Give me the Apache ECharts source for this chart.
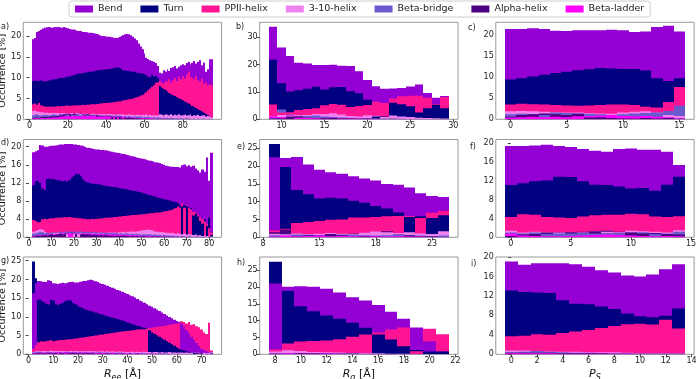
<!DOCTYPE html>
<html>
<head>
<meta charset="utf-8">
<script src="https://cdn.jsdelivr.net/npm/echarts@6/dist/echarts.min.js"></script>
<style>html,body{margin:0;padding:0;background:#fff}#chart{width:696px;height:379px}</style>
</head>
<body>
<div id="chart"></div>
<script>
// secondary structure classes and their colours
const cats = ['Bend', 'Turn', 'PPII-helix', '3-10-helix', 'Beta-bridge', 'Alpha-helix', 'Beta-ladder'];
const colors = ['#9400D3', '#000080', '#FF1493', '#EE82EE', '#6A5ACD', '#4B0082', '#FF00FF'];

// ---- a) R_ee, bins centred 2..95
const aStart = 2;
const aBend = [19.2,19.5,21.0,21.2,21.5,21.8,22.0,22.1,22.2,22.1, 22.0,22.1,22.2,22.2,22.1,22.0,22.2,22.0,21.9,21.7,
  21.6,21.6,21.5,21.3,21.2,21.2,21.0,21.0,20.9,20.8, 20.8,20.7,20.6,20.5,20.4,20.2,20.0,20.0,19.9,19.8,
  19.8,19.7,19.6,19.5,19.6,19.8,20.0,20.2,20.4,20.5, 20.4,20.2,19.8,19.4,19.0,18.2,17.5,16.8,15.8,14.8,
  14.5,14.2,14.0,13.8,13.5,12.8,11.2,11.0,11.8,11.5, 12.0,11.6,12.3,12.5,12.8,12.2,12.6,13.0,13.2,13.0,
  13.5,13.8,13.2,13.6,14.0,13.4,13.8,14.2,13.0,13.6, 11.4,12.0,14.4,14.4];
const aTurn = [9.2,9.3,9.2,9.2,9.3,9.2,9.1,9.2,9.3,9.3, 9.5,9.6,9.6,9.8,9.9,9.9,10.0,10.1,10.2,10.3,
  10.5,10.6,10.7,10.9,11.0,11.0,11.1,11.2,11.3,11.4, 11.4,11.5,11.6,11.7,11.8,11.8,11.9,11.9,12.0,12.1,
  12.1,12.2,12.3,12.4,12.5,12.3,12.0,11.8,11.7,11.6, 11.6,11.5,11.4,11.4,11.2,11.1,11.0,11.0,10.9,10.6,
  10.3,10.1,10.7,10.3,10.4,9.9,8.0,7.6,7.3,7.0, 6.6,6.3,6.0,5.8,5.6,5.3,5.0,4.8,4.6,4.3,
  4.0,3.8,3.5,3.2,3.0,2.7,2.4,2.2,1.9,1.6, 1.3,1.0,0.6,0.5];
const aPPII = [3.6,3.8,3.5,3.9,3.4,3.2,3.1,3.0,3.0,3.0, 3.1,3.0,3.1,3.2,3.1,3.2,3.2,3.3,3.3,3.2,
  3.3,3.3,3.4,3.3,3.4,3.4,3.5,3.4,3.5,3.5, 3.6,3.6,3.6,3.7,3.7,3.8,3.8,3.9,3.9,4.0,
  4.0,4.1,4.1,4.2,4.3,4.3,4.4,4.5,4.6,4.7, 4.8,4.9,5.0,5.2,5.3,5.5,5.7,5.9,6.2,6.5,
  7.0,7.4,7.8,8.2,8.8,8.9,9.2,8.8,8.6,9.2, 9.0,9.6,8.8,9.4,10.0,9.2,10.2,9.6,10.4,9.8,
  10.8,11.5,10.2,10.0,9.6,10.4,9.4,9.0,9.8,8.6, 8.8,8.2,8.4,8.2];
const a310 = [2.0,2.1,1.9,1.8,1.7,1.7,1.6,1.6,1.5,1.6, 1.5,1.6,1.5,1.5,1.4,1.5,1.5,1.4,1.5,1.4,
  1.5,1.4,1.4,1.5,1.4,1.3,1.4,1.3,1.4,1.3, 1.3,1.4,1.3,1.2,1.3,1.3,1.2,1.3,1.2,1.2,
  1.3,1.2,1.2,1.1,1.2,1.2,1.1,1.2,1.1,1.1, 1.2,1.1,1.1,1.0,1.1,1.1,1.0,1.1,1.0,1.2,
  1.0,1.1,0.9,1.0,0.9,1.0,1.2,1.1,1.0,1.2, 1.1,1.0,1.2,0.9,1.1,1.0,1.2,0.9,1.0,1.1,
  0.9,1.0,1.2,0.8,1.0,0.9,1.1,0.8,0.9,1.0, 0.7,0.8,0.6,0.5];
const aBB = [1.0,1.1,1.2,1.0,0.9,1.0,1.1,1.0,0.9,1.0, 1.1,1.2,1.1,1.0,1.2,1.3,1.2,1.1,1.2,1.3,
  1.2,1.1,1.3,1.2,1.1,1.0,1.1,1.2,1.1,1.0, 1.1,1.0,0.9,1.0,1.1,0.9,1.0,0.9,0.8,0.9,
  1.0,0.9,0.8,0.9,0.8,0.9,0.8,0.7,0.8,0.7, 0.8,0.7,0.6,0.7,0.6,0.7,0.6,0.5,0.6,0.5,
  0.6,0.5,0.4,0.5,0.4,0.5,0.4,0.3,0.4,0.3, 0.4,0.3,0.4,0.3,0.2,0.3,0.2,0.3,0.2,0.2,
  0.3,0.2,0.2,0.1,0.2,0.1,0.2,0.1,0.1,0.2, 0.1,0.1,0.1,0.1];
const aAH = [0.3,0.4,0.5,0.4,0.5,0.6,0.5,0.6,0.7,0.6, 0.7,0.8,0.7,0.8,0.9,1.0,1.2,1.3,1.4,1.2,
  1.3,1.4,1.2,1.3,1.5,1.4,1.2,1.1,1.3,1.2, 1.0,1.1,0.9,1.0,0.8,0.9,0.7,0.8,0.9,0.7,
  0.8,0.6,0.7,0.5,0.6,0.5,0.4,0.5,0.4,0.3, 0.4,0.3,0.3,0.2,0.3,0.2,0.2,0.3,0.2,0.2,
  0.2,0.1,0.2,0.1,0.1,0.2,0.1,0.1,0.1,0.1, 0.1,0.1,0.1,0.1,0.1,0.0,0.1,0.0,0.1,0.0,
  0.0,0.1,0.0,0.0,0.1,0.0,0.0,0.0,0.0,0.0, 0.0,0.0,0.0,0.0];
const aBL = [0.2,0.2,0.3,0.2,0.3,0.3,0.2,0.3,0.4,0.3, 0.4,0.5,0.4,0.5,0.6,0.7,0.8,0.7,0.9,0.8,
  0.7,0.8,0.9,0.7,0.8,0.6,0.8,0.9,0.7,0.8, 0.9,0.7,0.8,0.6,0.7,0.8,0.6,0.7,0.8,0.6,
  0.7,0.8,0.6,0.7,0.5,0.6,0.7,0.5,0.6,0.4, 0.5,0.4,0.5,0.3,0.4,0.3,0.4,0.3,0.2,0.3,
  0.2,0.3,0.2,0.2,0.1,0.2,0.1,0.1,0.2,0.1, 0.1,0.1,0.0,0.1,0.0,0.1,0.0,0.0,0.1,0.0,
  0.0,0.0,0.0,0.1,0.0,0.0,0.0,0.0,0.0,0.0, 0.0,0.0,0.0,0.0];

// ---- b) R_g, bins centred 9..29
const bStart = 9;
const bBend = [33.9,26.3,23.2,20.7,20.4,19.9,19.9,20.0,19.6,19.5,17.6,14.4,12.1,11.2,11.3,11.5,12.0,12.7,9.6,7.9,8.5];
const bTurn = [21.8,13.2,10.2,10.6,11.2,11.9,10.9,11.7,11.8,10.3,9.5,7.2,1.0,1.0,6.1,5.5,4.8,2.5,4.0,5.3,4.0];
const bPPII = [5.4,2.5,2.6,3.4,3.8,4.0,5.1,5.6,5.3,4.5,4.9,5.2,6.4,6.0,7.6,8.4,8.6,8.6,7.9,5.6,8.2];
const b310 = [1.0,1.6,1.3,1.5,1.6,1.9,1.9,2.2,1.8,1.2,1.0,1.5,1.3,0.8,1.4,1.0,0.8,0.6,0.5,0.4,0.3];
const bBB = [0.5,3.6,1.8,1.2,1.2,1.4,1.0,0.8,0.7,0.6,0.5,0.4,0.3,0.3,0.2,0.2,0.1,0.1,0.1,0.0,0.0];
const bAH = [0.3,0.4,1.0,1.0,0.6,0.5,0.4,0.5,0.3,0.4,0.2,0.3,0.1,0.1,0.2,0.1,0.0,0.0,0.0,0.0,0.0];
const bBL = [1.0,0.8,1.5,0.6,0.5,0.4,0.5,0.6,0.4,0.3,0.3,0.2,0.2,0.1,0.1,0.1,0.1,0.0,0.0,0.0,0.0];

// ---- c) P_S, bins centred 0..15
const cStart = 0;
const cBend = [21.5,21.5,21.7,21.5,21.1,21.0,21.2,21.2,21.2,21.3,21.2,20.8,20.9,22.0,22.3,20.9];
const cTurn = [9.5,9.8,10.2,10.6,11.0,11.3,11.7,11.9,12.2,12.1,12.0,12.0,11.6,9.8,9.1,9.8];
const cPPII = [3.5,3.7,3.6,3.5,3.4,3.3,3.2,3.3,3.4,3.5,3.5,3.4,3.0,2.8,4.1,7.7];
const c310 = [1.9,2.0,1.9,1.8,1.7,1.6,1.6,1.5,1.4,1.3,1.6,1.8,1.9,1.6,1.0,0.8];
const cBB = [1.2,1.3,1.2,1.0,1.6,1.5,1.4,1.3,1.2,1.0,1.2,1.4,1.5,1.6,2.0,3.2];
const cAH = [0.6,1.0,1.2,1.4,1.2,1.0,1.3,0.4,0.5,0.3,0.2,0.2,0.3,0.2,0.3,0.2];
const cBL = [0.4,0.5,0.6,0.5,0.6,0.5,0.7,0.8,0.9,1.0,0.8,0.7,0.8,0.6,0.5,0.2];

// ---- d) R_ee, bins centred 2..81
const dStart = 2;
const dBend = [18.8,19.0,19.2,20.4,20.3,20.0,20.0,20.1,20.2,20.2, 20.3,20.4,20.5,20.5,20.6,20.6,20.6,20.6,20.5,20.5,
  20.4,20.3,20.2,20.0,19.8,19.7,19.6,19.5,19.4,19.4, 19.3,19.3,19.2,19.1,19.0,18.9,18.8,18.7,18.6,18.5,
  18.4,18.3,18.2,18.0,17.9,17.8,17.6,17.5,17.4,17.3, 17.2,17.0,16.9,16.8,16.6,16.5,16.4,16.2,16.0,15.8,
  15.7,15.6,15.6,15.5,15.5,15.4,15.9,16.1,15.7,15.9, 15.6,15.8,15.2,14.8,14.3,15.0,14.5,17.6,12.5,18.7];
const dTurn = [11.5,12.4,12.5,12.0,10.8,10.4,12.9,13.0,12.8,12.9, 12.7,12.6,12.5,12.4,12.5,12.3,12.6,13.2,13.6,14.0,
  13.9,13.5,12.8,12.4,12.1,12.0,11.8,11.8,11.7,11.7, 11.6,11.5,11.4,11.3,11.2,11.1,11.1,11.0,10.9,10.8,
  10.7,10.6,10.5,10.4,10.3,10.2,10.1,10.0,9.9,9.7, 9.6,9.4,9.3,9.1,9.0,8.8,8.7,8.5,8.4,8.3,
  8.2,8.0,7.9,7.8,7.6,7.0,6.8,7.1,6.9,6.6, 6.4,4.8,5.2,4.6,3.6,3.0,4.0,2.5,4.4,0.5];
const dPPII = [3.8,3.6,3.3,3.4,4.0,4.1,4.0,4.1,4.2,4.2, 4.3,4.3,4.4,4.4,4.5,4.4,4.5,4.4,4.3,4.3,
  4.2,4.2,4.1,4.1,4.0,4.0,4.1,4.0,4.1,4.1, 4.2,4.2,4.3,4.3,4.4,4.4,4.5,4.5,4.6,4.6,
  4.7,4.7,4.8,4.8,4.9,4.9,5.0,5.0,5.1,5.1, 5.2,5.2,5.3,5.3,5.4,5.5,5.5,5.6,5.7,5.8,
  5.9,6.0,6.2,6.4,6.8,6.6,7.5,6.5,7.2,6.5, 6.2,5.6,5.4,5.0,4.5,4.0,3.5,3.0,2.0,1.0];
const d310 = [1.2,1.4,1.6,1.8,1.7,1.2,1.0,0.9,1.0,0.9, 0.9,1.0,0.9,0.8,0.9,0.8,0.9,0.8,0.8,0.9,
  0.8,0.9,0.8,0.8,0.9,0.8,0.9,0.9,1.0,0.9, 1.0,0.9,1.0,1.0,1.1,1.0,1.1,1.0,1.1,1.1,
  1.2,1.1,1.2,1.2,1.3,1.2,1.3,1.4,1.5,1.6, 1.6,1.7,1.6,1.5,1.3,1.2,1.1,1.2,1.1,1.0,
  1.0,0.9,1.0,0.8,0.9,0.8,0.7,0.8,0.6,0.7, 0.6,0.5,0.6,0.4,0.5,0.3,0.4,0.3,0.2,0.2];
const dBB = [0.8,0.9,1.0,1.2,1.1,0.9,1.0,0.9,1.0,1.1, 1.0,1.1,1.2,1.1,1.2,1.3,1.2,1.3,1.2,1.3,
  1.2,1.3,1.2,1.1,1.2,1.1,1.2,1.1,1.0,1.1, 1.0,1.1,1.0,0.9,1.0,0.9,1.0,0.9,0.8,0.9,
  0.8,0.9,0.8,0.7,0.8,0.7,0.8,0.7,0.6,0.7, 0.6,0.7,0.6,0.5,0.6,0.5,0.5,0.4,0.5,0.4,
  0.4,0.3,0.4,0.3,0.3,0.2,0.3,0.2,0.2,0.2, 0.2,0.1,0.2,0.1,0.1,0.1,0.1,0.0,0.1,0.0];
const dAH = [0.2,0.3,0.4,0.3,0.4,0.5,0.4,0.5,0.6,0.5, 0.6,0.7,0.8,0.7,0.8,0.9,1.0,0.9,1.0,0.8,
  0.9,0.7,0.8,0.6,0.7,0.6,0.5,0.6,0.5,0.4, 0.5,0.4,0.5,0.4,0.3,0.4,0.3,0.4,0.3,0.3,
  0.4,0.3,0.3,0.2,0.3,0.2,0.3,0.2,0.2,0.3, 0.2,0.2,0.1,0.2,0.1,0.2,0.1,0.1,0.1,0.1,
  0.1,0.1,0.1,0.0,0.1,0.0,0.1,0.0,0.0,0.1, 0.0,0.0,0.0,0.0,0.0,0.0,0.0,0.0,0.0,0.0];
const dBL = [0.3,0.4,0.5,0.4,0.5,0.6,0.5,0.6,0.7,0.6, 0.7,0.8,0.9,1.0,0.9,1.0,0.9,0.8,0.9,1.0,
  0.9,1.0,0.9,0.8,0.9,0.8,0.9,0.8,0.7,0.8, 0.7,0.8,0.7,0.6,0.7,0.6,0.7,0.6,0.5,0.6,
  0.5,0.6,0.5,0.4,0.5,0.4,0.5,0.4,0.3,0.4, 0.3,0.4,0.3,0.3,0.2,0.3,0.2,0.2,0.2,0.1,
  0.2,0.1,0.1,0.1,0.1,0.0,0.1,0.0,0.0,0.0, 0.0,0.0,0.0,0.0,0.0,0.0,0.0,0.0,0.0,0.0];

// ---- e) R_g, bins centred 9..24
const eStart = 9;
const eBend = [22.5,22.3,22.6,20.5,19.0,18.3,17.9,17.2,16.5,16.0,15.0,14.8,14.0,12.4,11.6,11.3];
const eTurn = [26.2,19.8,13.3,12.1,10.9,11.1,10.9,10.3,9.7,8.8,8.1,7.0,5.7,5.9,5.4,6.2];
const ePPII = [1.9,2.4,4.0,4.3,4.6,4.9,5.0,5.6,5.6,5.7,5.9,6.0,6.0,5.4,6.9,7.5];
const e310 = [1.0,0.8,1.1,0.9,1.0,1.2,1.0,0.9,1.3,1.6,1.4,1.2,1.4,1.1,0.9,1.7];
const eBB = [0.6,0.9,0.8,0.7,0.6,0.9,0.8,0.8,0.6,0.5,0.6,0.7,0.6,0.5,0.4,0.5];
const eAH = [1.4,2.2,0.4,0.6,0.5,0.9,0.6,1.0,0.4,0.3,1.7,0.8,0.6,0.3,0.2,0.1];
const eBL = [0.2,0.5,0.3,0.4,0.5,0.3,0.4,0.3,0.2,0.3,0.2,0.3,0.2,0.2,0.1,0.1];

// ---- f) P_S, bins centred 0..14
const fStart = 0;
const fBend = [19.4,19.4,19.5,19.7,19.4,19.2,18.8,18.4,18.2,18.8,18.9,18.6,18.6,18.2,15.4];
const fTurn = [11.1,11.5,11.9,12.1,12.9,12.8,11.9,11.2,11.1,10.8,10.4,10.5,9.9,11.2,12.9];
const fPPII = [4.3,4.9,4.8,4.3,4.2,4.1,4.4,4.7,4.8,4.8,5.0,4.9,4.4,4.3,4.5];
const f310 = [1.4,1.0,1.2,1.1,1.0,1.1,1.0,1.3,1.2,1.1,1.4,1.3,1.2,1.0,1.5];
const fBB = [1.0,0.8,1.0,0.7,0.8,0.8,0.9,0.8,0.9,0.9,1.0,1.1,0.7,0.8,1.2];
const fAH = [0.3,0.6,0.7,1.0,1.1,1.1,1.2,1.3,1.4,1.2,1.0,0.8,0.9,0.7,0.6];
const fBL = [0.8,0.4,0.3,0.2,0.2,0.3,0.4,0.5,0.6,0.5,0.4,0.3,0.2,0.3,0.2];

// ---- g) R_ee, bins centred 2..74
const gStart = 2;
const gBend = [16.3,19.0,19.6,19.5,19.4,19.3,19.8,19.6,19.0,18.9, 18.8,19.0,19.1,19.0,19.2,19.3,19.4,19.2,19.2,19.4,
  19.6,19.6,19.8,19.9,19.8,19.5,19.3,19.0,18.8,18.6, 18.3,18.0,17.8,17.5,17.2,17.0,16.7,16.4,16.1,15.8,
  15.5,15.2,14.8,14.4,14.1,13.8,13.4,13.0,12.7,12.3, 12.0,11.6,11.2,10.8,10.4,10.0,9.6,9.2,8.9,8.7,
  8.3,7.4,6.5,5.6,4.7,3.8,3.0,2.2,1.5,1.1, 0.8,0.6,0.4];
const gTurn = [24.8,20.3,14.6,14.5,14.0,13.5,13.3,14.6,14.4,13.4, 13.2,13.5,13.8,14.2,14.5,14.4,13.8,13.4,13.0,12.6,
  12.3,12.0,11.8,11.6,11.4,11.2,11.0,10.8,10.6,10.4, 10.2,10.0,9.8,9.6,9.4,9.2,9.0,8.8,8.5,8.3,
  8.0,7.8,7.6,7.4,7.2,7.1,6.9,6.4,5.9,5.5, 5.1,4.7,4.3,3.9,3.5,3.1,2.7,2.3,1.9,1.5,
  1.2,1.0,0.8,0.6,0.5,0.4,0.3,0.2,0.2,0.1, 0.1,0.1,0.1];
const gPPII = [1.5,2.5,3.2,3.5,3.4,3.5,3.6,3.8,3.5,3.6, 3.7,3.8,3.8,3.9,4.0,4.0,4.1,4.2,4.3,4.4,
  4.5,4.6,4.7,4.8,4.9,5.0,5.1,5.2,5.3,5.4, 5.5,5.6,5.7,5.8,5.9,6.0,6.1,6.2,6.2,6.3,
  6.4,6.5,6.6,6.6,6.7,6.7,6.8,7.0,7.1,7.2, 7.3,7.4,7.5,7.6,7.7,7.8,8.0,8.1,8.2,8.3,
  8.8,8.6,8.2,8.6,7.9,8.1,7.5,7.2,6.6,5.8, 5.4,8.4,1.0];
const g310 = [0.6,0.8,0.9,0.8,0.9,0.8,0.9,1.0,0.9,0.8, 0.9,0.8,0.9,0.8,0.8,0.9,0.8,0.9,0.8,0.8,
  0.9,0.8,0.8,0.9,0.8,0.8,0.7,0.8,0.8,0.7, 0.8,0.7,0.8,0.7,0.7,0.8,0.7,0.7,0.6,0.7,
  0.7,0.6,0.7,0.6,0.6,0.7,0.6,0.6,0.5,0.6, 0.6,0.5,0.6,0.5,0.5,0.6,0.5,0.5,0.4,0.5,
  0.5,0.4,0.5,0.4,0.4,0.5,0.4,0.4,0.3,0.4, 0.3,0.4,0.6];
const gBB = [0.5,0.6,0.7,0.6,0.5,0.6,0.7,0.6,0.5,0.6, 0.5,0.6,0.5,0.6,0.7,0.6,0.5,0.6,0.5,0.6,
  0.5,0.6,0.5,0.5,0.6,0.5,0.5,0.6,0.5,0.4, 0.5,0.4,0.5,0.4,0.4,0.5,0.4,0.4,0.3,0.4,
  0.3,0.4,0.3,0.3,0.4,0.3,0.3,0.2,0.3,0.2, 0.2,0.3,0.2,0.2,0.2,0.1,0.2,0.1,0.1,0.2,
  0.1,0.1,0.1,0.1,0.1,0.1,0.1,0.0,0.1,0.0, 0.0,0.1,0.2];
const gAH = [0.3,0.2,0.3,0.4,0.3,0.2,0.3,0.4,0.3,0.3, 0.4,0.3,0.3,0.4,0.3,0.3,0.4,0.3,0.3,0.2,
  0.3,0.2,0.3,0.3,0.2,0.3,0.2,0.2,0.3,0.2, 0.2,0.2,0.1,0.2,0.2,0.1,0.2,0.1,0.1,0.2,
  0.1,0.1,0.2,0.1,0.1,0.1,0.1,0.1,0.0,0.1, 0.1,0.0,0.1,0.0,0.1,0.0,0.0,0.1,0.0,0.0,
  0.0,0.0,0.0,0.0,0.0,0.0,0.0,0.0,0.0,0.0, 0.0,0.0,0.0];
const gBL = [0.2,0.3,0.4,0.3,0.4,0.5,0.4,0.3,0.4,0.5, 0.4,0.5,0.4,0.4,0.5,0.4,0.5,0.4,0.4,0.5,
  0.4,0.4,0.5,0.4,0.4,0.3,0.4,0.4,0.3,0.4, 0.3,0.3,0.4,0.3,0.3,0.2,0.3,0.3,0.2,0.3,
  0.2,0.2,0.3,0.2,0.2,0.1,0.2,0.2,0.1,0.2, 0.1,0.1,0.2,0.1,0.1,0.1,0.0,0.1,0.1,0.0,
  0.0,0.0,0.0,0.0,0.0,0.0,0.0,0.0,0.0,0.0, 0.0,0.0,0.0];

// ---- h) R_g, bins centred 8..21
const hStart = 8;
const hBend = [21.1,20.1,20.3,20.1,19.5,18.4,17.0,16.0,14.7,12.7,10.6,8.0,3.9,0.8];
const hTurn = [27.6,18.9,14.3,12.8,11.6,10.6,9.4,7.9,5.9,4.4,2.4,1.3,0.8,0.8];
const hPPII = [1.4,3.2,3.8,4.0,4.1,4.5,5.2,5.9,6.5,7.4,8.0,0.9,7.6,6.0];
const h310 = [0.8,1.2,1.0,0.7,0.6,0.5,0.4,0.3,0.3,0.2,0.2,0.1,0.1,0.1];
const hBB = [0.3,0.3,0.4,0.3,0.4,0.3,0.3,0.2,0.2,0.1,0.1,0.1,0.0,0.0];
const hAH = [0.2,0.4,0.3,0.3,0.2,0.2,0.2,0.1,0.1,0.1,0.0,0.0,0.0,0.0];
const hBL = [0.2,0.3,0.2,0.2,0.3,0.2,0.1,0.1,0.1,0.1,0.0,0.0,0.0,0.0];

// ---- i) P_S, bins centred 0..13
const iStart = 0;
const iBend = [19.1,18.4,18.7,18.7,18.7,18.5,18.0,17.3,16.8,16.2,16.0,16.4,17.5,18.5];
const iTurn = [13.1,12.8,12.7,12.6,11.1,10.4,10.3,9.8,9.3,8.4,7.8,7.6,7.9,9.4];
const iPPII = [3.7,3.8,4.1,4.0,4.4,4.7,5.0,5.4,5.8,6.2,6.3,6.1,7.1,5.3];
const i310 = [0.8,0.8,0.7,0.6,0.5,0.5,0.4,0.4,0.4,0.3,0.2,0.2,0.2,0.2];
const iBB = [0.4,0.5,0.7,0.5,0.4,0.3,0.3,0.2,0.2,0.2,0.1,0.1,0.1,0.1];
const iAH = [0.3,0.3,0.3,0.3,0.2,0.2,0.2,0.2,0.1,0.1,0.1,0.1,0.1,0.1];
const iBL = [0.2,0.2,0.2,0.2,0.1,0.1,0.1,0.1,0.1,0.1,0.0,0.0,0.0,0.0];

// tick labels
const reeTicksA = [0, 20, 40, 60, 80];
const reeTicksD = [0, 10, 20, 30, 40, 50, 60, 70, 80];
const reeTicksG = [0, 10, 20, 30, 40, 50, 60, 70];
const rgTicksB = [10, 15, 20, 25, 30];
const rgTicksE = [8, 13, 18, 23];
const rgTicksH = [8, 10, 12, 14, 16, 18, 20, 22];
const psTicksCF = [0, 5, 10, 15];
const psTicksI = [0, 2, 4, 6, 8, 10, 12, 14];
const yTicks5 = [0, 5, 10, 15, 20];
const yTicks25 = [0, 5, 10, 15, 20, 25];
const yTicksB = [0, 10, 20, 30];
const yTicks4 = [0, 4, 8, 12, 16, 20];

// layout
const colLeft = [23.3, 259.7, 495.8];
const plotW = 198.3;
const rowTop = [22.3, 139.5, 257];
const plotH = [97, 97.8, 97.3];

const panels = [
  {tag: 'a)', col: 0, row: 0, start: aStart, vals: [aBend, aTurn, aPPII, a310, aBB, aAH, aBL], xMin: -3.2, xMax: 100.2, xTicks: reeTicksA, yMax: 23.3, yTicks: yTicks5},
  {tag: 'b)', col: 1, row: 0, start: bStart, vals: [bBend, bTurn, bPPII, b310, bBB, bAH, bBL], xMin: 7.45, xMax: 30.55, xTicks: rgTicksB, yMax: 35.5, yTicks: yTicksB},
  {tag: 'c)', col: 2, row: 0, start: cStart, vals: [cBend, cTurn, cPPII, c310, cBB, cAH, cBL], xMin: -1.3, xMax: 16.3, xTicks: psTicksCF, yMax: 23.1, yTicks: yTicks5},
  {tag: 'd)', col: 0, row: 1, start: dStart, vals: [dBend, dTurn, dPPII, d310, dBB, dAH, dBL], xMin: -2.5, xMax: 85.5, xTicks: reeTicksD, yMax: 21.6, yTicks: yTicks4},
  {tag: 'e)', col: 1, row: 1, start: eStart, vals: [eBend, eTurn, ePPII, e310, eBB, eAH, eBL], xMin: 7.7, xMax: 25.3, xTicks: rgTicksE, yMax: 27.5, yTicks: yTicks25},
  {tag: 'f)', col: 2, row: 1, start: fStart, vals: [fBend, fTurn, fPPII, f310, fBB, fAH, fBL], xMin: -1.25, xMax: 15.25, xTicks: psTicksCF, yMax: 20.8, yTicks: yTicks4},
  {tag: 'g)', col: 0, row: 2, start: gStart, vals: [gBend, gTurn, gPPII, g310, gBB, gAH, gBL], xMin: -2.15, xMax: 78.15, xTicks: reeTicksG, yMax: 26.0, yTicks: yTicks25, xName: '{i|R}{s|ee}{n| [Å]}'},
  {tag: 'h)', col: 1, row: 2, start: hStart, vals: [hBend, hTurn, hPPII, h310, hBB, hAH, hBL], xMin: 6.8, xMax: 22.2, xTicks: rgTicksH, yMax: 29.0, yTicks: yTicks25, xName: '{i|R}{s|g}{n| [Å]}'},
  {tag: 'i)', col: 2, row: 2, start: iStart, vals: [iBend, iTurn, iPPII, i310, iBB, iAH, iBL], xMin: -1.2, xMax: 14.2, xTicks: psTicksI, yMax: 20.0, yTicks: yTicks4, xName: '{i|P}{s|S}'}
];

const font = 'DejaVu Sans';
const nameRich = {
  i: {fontSize: 11, fontStyle: 'italic', fontFamily: font, lineHeight: 16, color: '#111'},
  s: {fontSize: 8, fontStyle: 'italic', fontFamily: font, lineHeight: 8, verticalAlign: 'bottom', color: '#111'},
  n: {fontSize: 11, fontFamily: font, lineHeight: 16, color: '#111'}
};

const grids = [], xAxes = [], yAxes = [], series = [], graphics = [];

panels.forEach((p, pi) => {
  grids.push({
    left: colLeft[p.col], top: rowTop[p.row], width: plotW, height: plotH[p.row],
    show: true, borderColor: '#999', borderWidth: 1, backgroundColor: '#fff',
    containLabel: false, outerBoundsMode: 'none'
  });
  xAxes.push({
    gridIndex: pi, type: 'value', min: p.xMin, max: p.xMax,
    splitLine: {show: false}, axisLine: {show: false},
    axisTick: {show: true, length: 3, lineStyle: {color: '#444'}, customValues: p.xTicks},
    axisLabel: {fontSize: 8, color: '#222', margin: 3, fontFamily: font, customValues: p.xTicks},
    name: p.xName || '', nameLocation: 'middle', nameGap: 12,
    nameTextStyle: {rich: nameRich}
  });
  yAxes.push({
    gridIndex: pi, type: 'value', min: 0, max: p.yMax,
    splitLine: {show: false}, axisLine: {show: false},
    axisTick: {show: true, length: 3, lineStyle: {color: '#444'}, customValues: p.yTicks},
    axisLabel: {fontSize: 8, color: '#222', margin: 2, fontFamily: font, customValues: p.yTicks},
    name: p.col === 0 ? 'Occurrence [%]' : '', nameLocation: 'middle', nameGap: 13.5,
    nameTextStyle: {fontSize: 9.5, color: '#111', fontFamily: font}
  });
  cats.forEach((c, k) => {
    const vals = p.vals;
    series.push({
      type: 'custom', name: c, xAxisIndex: pi, yAxisIndex: pi,
      itemStyle: {color: colors[k]}, silent: true, clip: true,
      data: vals[k].map((v, i) => [p.start + i, v]),
      renderItem: (params, api) => {
        const i = params.dataIndex;
        const v = api.value(1);
        if (!(v > 0)) return null;
        // larger values sit behind, smaller ones in front
        let rank = 0;
        for (let j = 0; j < vals.length; j++) {
          if (j === k) continue;
          const w = vals[j][i];
          if (w > v || (w === v && j < k)) rank++;
        }
        const x = api.value(0);
        const p0 = api.coord([x - 0.5, v]);
        const p1 = api.coord([x + 0.5, 0]);
        const x0 = Math.round(p0[0]), x1 = Math.round(p1[0]);
        return {
          type: 'rect', z2: rank,
          shape: {x: x0, y: p0[1], width: x1 - x0, height: p1[1] - p0[1]},
          style: {fill: colors[k]}
        };
      }
    });
  });
});

const tagPos = [[1, 23], [236, 23], [468, 24], [1, 139], [237, 143], [470, 143], [1, 257], [237, 259], [471, 260]];
panels.forEach((p, pi) => {
  graphics.push({type: 'text', left: tagPos[pi][0], top: tagPos[pi][1],
    style: {text: p.tag, fontSize: 8, fill: '#222', fontFamily: font}});
});

const chart = echarts.init(document.getElementById('chart'));
chart.setOption({
  animation: false,
  backgroundColor: '#fff',
  textStyle: {fontFamily: font},
  legend: {
    data: cats, top: 1, left: 69, icon: 'rect', itemWidth: 18, itemHeight: 7, itemGap: 18,
    selectedMode: false, borderColor: '#ccc', borderWidth: 1, borderRadius: 3, padding: [3, 6, 3, 6],
    textStyle: {fontSize: 9.5, color: '#222', fontFamily: font}
  },
  grid: grids,
  xAxis: xAxes,
  yAxis: yAxes,
  series: series,
  graphic: graphics
});
</script>
</body>
</html>
